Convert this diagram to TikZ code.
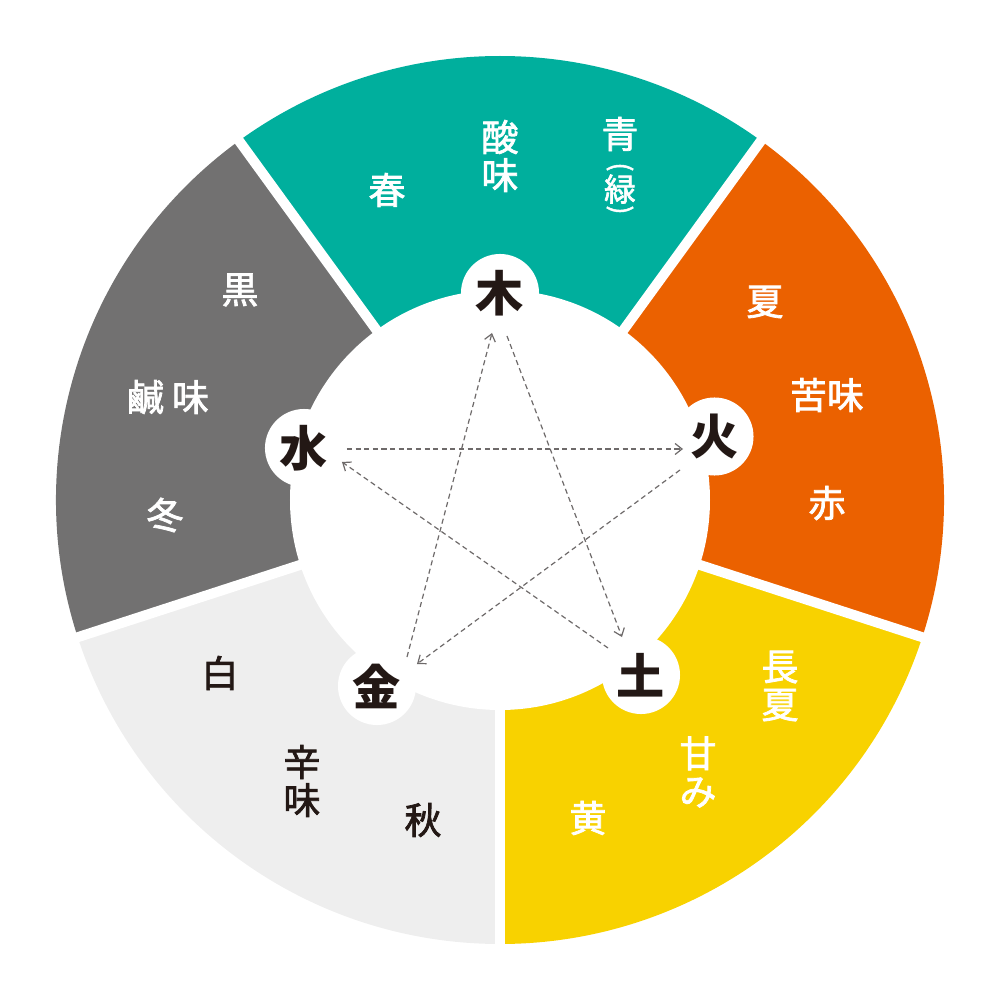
\documentclass[tikz,border=0pt]{standalone}
\usepackage{fontspec}
\newfontfamily\cjk{Noto Sans CJK JP}
\newfontfamily\cjkm{Noto Sans CJK JP}[FakeBold=2]
\usetikzlibrary{arrows.meta}
\definecolor{tealc}{HTML}{00AF9D}
\definecolor{orangec}{HTML}{EB6100}
\definecolor{yellowc}{HTML}{F8D200}
\definecolor{darkc}{HTML}{727171}
\definecolor{lightc}{HTML}{EEEEEE}
\definecolor{ink}{HTML}{231815}
\definecolor{dashgray}{HTML}{6E6A6A}
\begin{document}
\begin{tikzpicture}[x=0.01cm,y=0.01cm,
  lbl/.style={font=\cjkm\fontsize{10.5}{10.8}\selectfont, text=white, inner sep=0pt, align=center},
  lblk/.style={lbl, text=ink},
  paren/.style={lbl, rotate=-90, font=\cjkm\fontsize{7.5}{7.5}\selectfont},
  elem/.style={circle, fill=white, minimum size=0.78cm, inner sep=0pt, font=\cjk\bfseries\fontsize{13.7}{14}\selectfont, text=ink},
  kokuarrow/.style={draw=dashgray, line width=0.34pt, dash pattern=on 1.45pt off 1pt, -{Straight Barb[length=0.07cm,width=0.11cm]}},
  gapline/.style={draw=white, line width=0.1cm}
]
\useasboundingbox (-500,-500) rectangle (500,500);
% sectors
\fill[tealc]   (0,0) -- (54:444)  arc[start angle=54,  end angle=126, radius=444] -- cycle;
\fill[darkc]   (0,0) -- (126:444) arc[start angle=126, end angle=198, radius=444] -- cycle;
\fill[lightc]  (0,0) -- (198:444) arc[start angle=198, end angle=270, radius=444] -- cycle;
\fill[yellowc] (0,0) -- (270:444) arc[start angle=270, end angle=342, radius=444] -- cycle;
\fill[orangec] (0,0) -- (342:444) arc[start angle=342, end angle=414, radius=444] -- cycle;
% white gaps
\foreach \a in {54,126,198,270,342} \draw[gapline] (0,0) -- (\a:460);
% inner circle
\fill[white] (0,0) circle[radius=210];
% element nodes
\node[elem] (moku) at (0,207) {木};
\node[elem] (ka) at (214.5,63.5) {火};
\node[elem] (do) at (141,-175) {土};
\node[elem] (kin) at (-123,-186) {金};
\node[elem] (sui) at (-196,52) {水};
% arrows
\draw[kokuarrow] ([shift={(30,29)}]kin.center) -- ([shift={(-8,-40)}]moku.center);
\draw[kokuarrow] ([shift={(7,-43)}]moku.center) -- ([shift={(-19,38)}]do.center);
\draw[kokuarrow] ([shift={(-33,27)}]do.center) -- ([shift={(38,-14)}]sui.center);
\draw[kokuarrow] ([shift={(43,-1)}]sui.center) -- ([shift={(-31.5,-12.5)}]ka.center);
\draw[kokuarrow] ([shift={(-34.5,-33.5)}]ka.center) -- ([shift={(40,22)}]kin.center);
% wood sector
\node[lbl] (haru) at (-113,310) {春};
\node[lbl] (sanmi) at (0,344) {酸\\味};
\node[lbl] (ao) at (120,366) {青};
\node[paren] (kakkoa) at (120,333) {(};
\node[lbl, font=\cjkm\fontsize{9}{9}\selectfont] (midori) at (120,311) {緑};
\node[paren] (kakkob) at (120,290) {)};
% fire sector
\node[lbl] (natsu) at (265,198) {夏};
\node[lbl] (kumi) at (327,105) {苦味};
\node[lbl] (aka) at (327,-3) {赤};
% earth sector
\node[lbl] (doyo) at (280,-186) {長\\夏};
\node[lbl] (amami) at (198,-272) {甘\\み};
\node[lbl] (ki) at (88,-318) {黄};
% metal sector
\node[lblk] (shiro) at (-280,-173) {白};
\node[lblk] (karami) at (-198,-281) {辛\\味};
\node[lblk] (aki) at (-77,-320) {秋};
% water sector
\node[lbl] (kuro) at (-260,210) {黒};
\node[lbl] (kanmi) at (-332,103) {鹹\kern2.3pt味};
\node[lbl] (fuyu) at (-335,-15) {冬};
\end{tikzpicture}
\end{document}
